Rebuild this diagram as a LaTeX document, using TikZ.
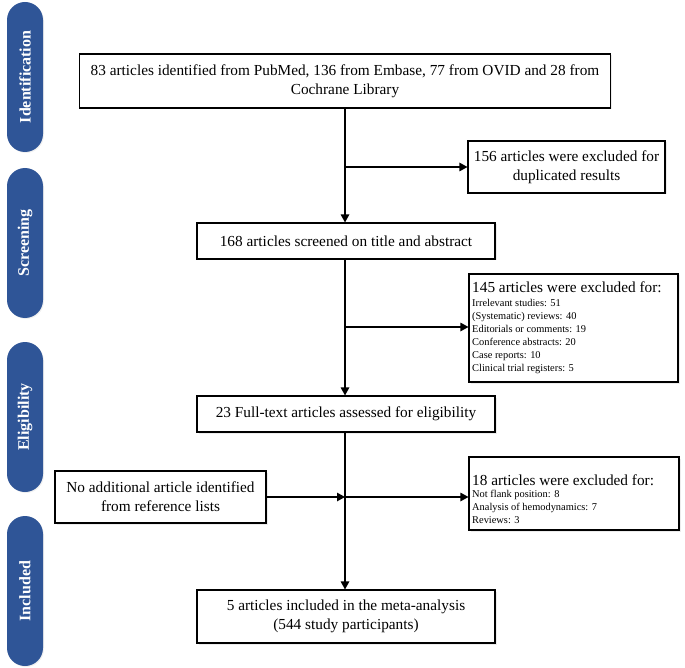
\documentclass[tikz,border=0pt]{standalone}
\usepackage{fontspec}
\setmainfont{Liberation Serif}
\usetikzlibrary{arrows.meta,shadows}
\definecolor{pillblue}{RGB}{47,85,151}
\begin{document}
\begin{tikzpicture}[x=1pt,y=-1pt,
  box/.style={draw=black, line width=1.1pt, fill=white, align=center,
    font=\fontsize{15.3}{19}\selectfont, inner sep=2pt,
    drop shadow={opacity=0.15,shadow xshift=1.5pt,shadow yshift=-1.5pt}},
  pill/.style={fill=pillblue, rounded corners=18pt, rotate=90,
    minimum width=150pt, minimum height=36pt, inner sep=0pt,
    text=white, font=\fontsize{16}{16}\selectfont\bfseries,
    drop shadow={opacity=0.12,shadow xshift=1pt,shadow yshift=-1pt}},
  exlist/.style={align=left, inner sep=0pt, anchor=north west,
    font=\fontsize{10.4}{13}\selectfont},
  conn/.style={line width=1.2pt, draw=black},
  arr/.style={conn, -{Triangle[length=8pt,width=8.5pt]}}]
\useasboundingbox (0,0) rectangle (685,668);

% phase pills
\node[pill] (pid) at (25,77) {Identification};
\node[pill] (psc) at (25,243) {Screening};
\node[pill] (pel) at (25,417) {Eligibility};
\node[pill] (pin) at (25,591) {Included};

% main boxes
\node[box, minimum width=531pt, minimum height=54pt] (b1) at (345,81)
  {83 articles identified from PubMed, 136 from Embase, 77 from OVID and 28 from\\Cochrane Library};
\node[box, minimum width=298pt, minimum height=36pt] (b2) at (346,241)
  {168 articles screened on title and abstract};
\node[box, minimum width=298pt, minimum height=36pt] (b4) at (346,414)
  {23 Full-text articles assessed for eligibility};
\node[box, minimum width=298pt, minimum height=53pt] (b6) at (346,616.5)
  {5 articles included in the meta-analysis\\(544 study participants)};

% side boxes
\node[box, minimum width=197pt, minimum height=52pt] (e1) at (566.5,167)
  {156 articles were excluded for\\duplicated results};
\node[box, minimum width=209pt, minimum height=108pt] (e2) at (573.5,328) {};
\node[exlist] (e2t) at (472,282) {{\fontsize{15.3}{15}\selectfont 145 articles were excluded for:}\\[1pt]
  Irrelevant studies: 51\\(Systematic) reviews: 40\\Editorials or comments: 19\\Conference abstracts: 20\\Case reports: 10\\Clinical trial registers: 5};
\node[box, minimum width=210pt, minimum height=73pt] (e3) at (574,493.5) {};
\node[exlist] (e3t) at (472,475) {{\fontsize{15.3}{15}\selectfont 18 articles were excluded for:}\\[-1pt]
  Not flank position: 8\\Analysis of hemodynamics: 7\\Reviews: 3};
\node[box, minimum width=211pt, minimum height=52pt] (bn) at (160.5,497)
  {No additional article identified\\from reference lists};

% junctions on the main line
\coordinate (j1) at (345,167);
\coordinate (j2) at (345,327);
\coordinate (j3) at (345,497);

% connectors
\draw[arr] (b1.south -| j1) -- (b2.north -| j1);
\draw[arr] (j1) -- (e1.west |- j1);
\draw[arr] (b2.south -| j1) -- (b4.north -| j1);
\draw[arr] (j2) -- (e2.west |- j2);
\draw[arr] (b4.south -| j1) -- (b6.north -| j1);
\draw[arr] (j3) -- (e3.west |- j3);
\draw[arr] (bn.east) -- (j3);
\end{tikzpicture}
\end{document}
